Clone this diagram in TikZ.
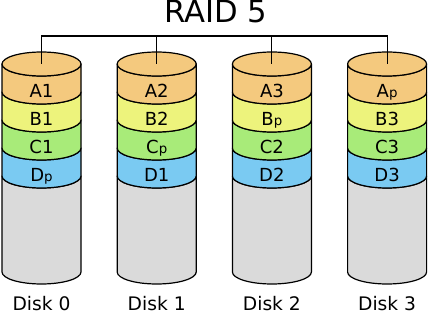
\documentclass[tikz,border=0pt]{standalone}
\usepackage{fontspec}
\setmainfont{DejaVu Sans}
\definecolor{cA}{HTML}{F4C97E}
\definecolor{cB}{HTML}{EDF37C}
\definecolor{cC}{HTML}{A8EB79}
\definecolor{cD}{HTML}{7ACAF2}
\definecolor{cE}{HTML}{DADADA}
\newcommand\psub{{\fontsize{10}{10}\selectfont p}}
\begin{document}
\begin{tikzpicture}[x=0.75pt,y=0.75pt,
  every node/.style={inner sep=0pt},
  band/.style={draw=black, line width=0.9pt, line join=round},
  wire/.style={draw=black, line width=0.8pt},
  lbl/.style={font=\fontsize{13.5}{13.5}\selectfont, anchor=base},
  disklbl/.style={font=\fontsize{14}{14}\selectfont, anchor=base},
  ttl/.style={font=\fontsize{23}{23}\selectfont, anchor=base}]
\useasboundingbox (0,0) rectangle (428,314);
\def\rx{39.5}
\foreach \i/\a/\b/\c/\d in {0/A1/B1/C1/D\psub, 1/A2/B2/C\psub/D1, 2/A3/B\psub/C2/D2, 3/A\psub/B3/C3/D3}{
  \pgfmathsetmacro\cx{41.5+115.2*\i}
  % bands: bottom to top
  \foreach \t/\bt/\col in {138/42/cE, 166/138/cD, 194/166/cC, 222/194/cB, 250/222/cA}{
    \path[band, fill=\col] (\cx-\rx,\t) -- (\cx-\rx,\bt)
      arc[start angle=180, end angle=360, x radius=29.625pt, y radius=9pt]
      -- (\cx+\rx,\t)
      arc[start angle=0, end angle=-180, x radius=29.625pt, y radius=9pt] -- cycle;
  }
  \path[band, fill=cA] (\cx,250) ellipse[x radius=29.625pt, y radius=9pt];
  \coordinate (top\i) at (\cx,250);
  \coordinate (bus\i) at (\cx,278);
  \node[lbl] (a\i) at (\cx,216) {\a};
  \node[lbl] (b\i) at (\cx,188) {\b};
  \node[lbl] (c\i) at (\cx,160) {\c};
  \node[lbl] (d\i) at (\cx,132) {\d};
  \node[disklbl] (disk\i) at (\cx,3) {Disk \i};
}
\node[ttl] (title) at (216,291) {RAID 5};
\draw[wire] (top0) -- (bus0) -- (bus3) -- (top3);
\draw[wire] (bus1) -- (top1);
\draw[wire] (bus2) -- (top2);
\end{tikzpicture}
\end{document}
